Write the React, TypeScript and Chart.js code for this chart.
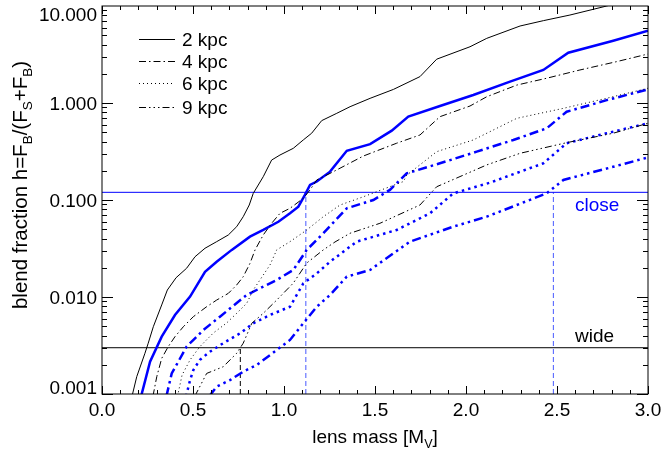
import React, { useEffect, useRef } from "react";
import { Chart, registerables } from "chart.js";
Chart.register(...registerables);

const FONT = '"Liberation Sans", Arial, Helvetica, sans-serif';
const BLUE = "rgb(0,0,255)";

// axis ticks
const xTickValues = [0, 0.5, 1.0, 1.5, 2.0, 2.5, 3.0];
const xTickLabels = ["0.0", "0.5", "1.0", "1.5", "2.0", "2.5", "3.0"];
const yTickValues = [0.001, 0.01, 0.1, 1, 10];
const yTickLabels = ["0.001", "0.010", "0.100", "1.000", "10.000"];

// legend
const legendLabels = ["2 kpc", "4 kpc", "6 kpc", "9 kpc"];

// thresholds
const closeLimit = 0.12;
const wideLimit = 0.003;
const closeCrossings = [1.12, 2.48];
const wideCrossings = [0.76];

// wide (black) series
const mass2kpcWide = [0.165, 0.191, 0.236, 0.254, 0.282, 0.328, 0.359, 0.407, 0.465, 0.511, 0.566, 0.630, 0.694, 0.740, 0.776, 0.809, 0.831, 0.886, 0.932, 0.978, 1.051, 1.106, 1.152, 1.207, 1.290, 1.363, 1.473, 1.601, 1.747, 1.839, 2.022, 2.114, 2.297, 2.425, 2.571, 2.773, 3.0];
const h2kpcWide = [0.00095, 0.00151, 0.00263, 0.00334, 0.00494, 0.00828, 0.0118, 0.0158, 0.0198, 0.0260, 0.0318, 0.0372, 0.0436, 0.0531, 0.0673, 0.0888, 0.117, 0.174, 0.258, 0.291, 0.341, 0.416, 0.488, 0.658, 0.783, 0.916, 1.117, 1.38, 1.87, 2.83, 3.80, 4.64, 6.22, 7.06, 8.07, 10.0, 13.5];

const mass4kpcWide = [0.280, 0.301, 0.328, 0.364, 0.401, 0.447, 0.502, 0.575, 0.630, 0.694, 0.740, 0.776, 0.813, 0.841, 0.886, 0.932, 0.978, 1.033, 1.106, 1.143, 1.180, 1.253, 1.436, 1.619, 1.747, 1.857, 2.022, 2.114, 2.279, 2.443, 2.626, 2.828, 3.0];
const h4kpcWide = [0.00095, 0.00151, 0.00233, 0.00308, 0.0039, 0.00494, 0.00627, 0.00794, 0.0093, 0.0109, 0.0133, 0.0162, 0.0222, 0.0306, 0.0436, 0.0575, 0.0729, 0.0821, 0.104, 0.127, 0.161, 0.188, 0.284, 0.385, 0.468, 0.723, 0.931, 1.16, 1.53, 1.80, 2.19, 2.67, 3.20];

const mass6kpcWide = [0.415, 0.44, 0.484, 0.538, 0.612, 0.685, 0.740, 0.795, 0.831, 0.868, 0.923, 0.960, 1.033, 1.125, 1.216, 1.308, 1.436, 1.656, 1.674, 1.839, 2.040, 2.279, 2.535, 2.773, 3.0];
const h6kpcWide = [0.00095, 0.00157, 0.00225, 0.00308, 0.00426, 0.0054, 0.00679, 0.0086, 0.0118, 0.0150, 0.0214, 0.0306, 0.0372, 0.0491, 0.0673, 0.0888, 0.108, 0.155, 0.18, 0.315, 0.416, 0.695, 0.881, 1.12, 1.42];

const mass9kpcWide = [0.51, 0.575, 0.666, 0.740, 0.776, 0.823, 0.886, 0.960, 1.051, 1.125, 1.216, 1.280, 1.363, 1.527, 1.747, 1.839, 2.114, 2.297, 2.553, 2.809, 3.0];
const h9kpcWide = [0.00095, 0.00163, 0.00191, 0.00263, 0.00334, 0.00536, 0.00679, 0.0093, 0.0139, 0.0224, 0.0306, 0.0369, 0.0454, 0.0575, 0.0888, 0.137, 0.230, 0.303, 0.390, 0.488, 0.618];

// close (blue) series
const mass2kpcClose = [0.215, 0.264, 0.328, 0.401, 0.484, 0.566, 0.630, 0.713, 0.813, 0.886, 0.969, 1.033, 1.079, 1.115, 1.143, 1.180, 1.253, 1.345, 1.473, 1.592, 1.683, 1.857, 2.040, 2.242, 2.425, 2.562, 2.809, 3.0];
const h2kpcClose = [0.00095, 0.00215, 0.0039, 0.00652, 0.0101, 0.0182, 0.0231, 0.0306, 0.0419, 0.0491, 0.0597, 0.0729, 0.0853, 0.113, 0.143, 0.155, 0.196, 0.322, 0.377, 0.519, 0.723, 0.931, 1.21, 1.66, 2.19, 3.30, 4.39, 5.56];

const mass4kpcClose = [0.354, 0.383, 0.419, 0.465, 0.511, 0.557, 0.648, 0.795, 0.960, 1.051, 1.125, 1.216, 1.345, 1.491, 1.582, 1.674, 1.857, 2.059, 2.260, 2.443, 2.553, 2.773, 3.0];
const h4kpcClose = [0.00095, 0.00163, 0.00215, 0.00308, 0.00375, 0.00457, 0.00627, 0.0105, 0.0150, 0.0190, 0.0306, 0.0454, 0.0821, 0.100, 0.127, 0.188, 0.239, 0.315, 0.416, 0.548, 0.813, 1.07, 1.38];

const mass6kpcClose = [0.462, 0.484, 0.502, 0.538, 0.593, 0.666, 0.758, 0.831, 0.923, 1.033, 1.106, 1.180, 1.253, 1.399, 1.619, 1.802, 1.930, 2.132, 2.425, 2.553, 2.773, 3.0];
const h6kpcClose = [0.00095, 0.00139, 0.00177, 0.00225, 0.00273, 0.00334, 0.00422, 0.00536, 0.00652, 0.00794, 0.0138, 0.0175, 0.0231, 0.0372, 0.0491, 0.0729, 0.117, 0.151, 0.239, 0.385, 0.488, 0.618];

const mass9kpcClose = [0.59, 0.630, 0.703, 0.776, 0.850, 0.960, 1.033, 1.106, 1.180, 1.253, 1.345, 1.473, 1.692, 1.930, 2.114, 2.443, 2.535, 2.809, 3.0];
const h9kpcClose = [0.00095, 0.00119, 0.00139, 0.0017, 0.00199, 0.00284, 0.00361, 0.00536, 0.00794, 0.0105, 0.0162, 0.0190, 0.0372, 0.0531, 0.0673, 0.117, 0.161, 0.220, 0.275];

const zip = (xs: number[], ys: number[]) => xs.map((x, i) => ({ x, y: ys[i] }));

const thinDash = [[], [7, 3, 1.5, 3], [1, 3], [7, 3, 1.5, 3, 1.5, 3, 1.5, 3]];
const thickDash = [[], [9, 4, 2.5, 4], [2.5, 4], [9, 4, 2.5, 4, 2.5, 4, 2.5, 4]];

function drawRich(ctx: CanvasRenderingContext2D, parts: { t: string; sub?: boolean }[], size: number, x: number, y: number) {
  const subSize = size * 0.66;
  let w = 0;
  for (const p of parts) {
    ctx.font = `${p.sub ? subSize : size}px ${FONT}`;
    w += ctx.measureText(p.t).width;
  }
  let cx = x - w / 2;
  for (const p of parts) {
    ctx.font = `${p.sub ? subSize : size}px ${FONT}`;
    ctx.fillText(p.t, cx, p.sub ? y + size * 0.24 : y);
    cx += ctx.measureText(p.t).width;
  }
}

const decorPlugin = {
  id: "decor",
  afterDatasetsDraw(chart: any) {
    const ctx: CanvasRenderingContext2D = chart.ctx;
    const { left, right, top, bottom } = chart.chartArea;
    const xs = chart.scales.x;
    const ys = chart.scales.y;
    ctx.save();
    // frame
    ctx.strokeStyle = "#000";
    ctx.lineWidth = 1;
    ctx.strokeRect(left, top, right - left, bottom - top);
    // x ticks
    ctx.beginPath();
    for (let i = 0; i <= 30; i++) {
      const v = i / 10;
      const px = Math.round(xs.getPixelForValue(v)) + 0.5;
      const len = i % 5 === 0 ? 8 : 4;
      ctx.moveTo(px, bottom);
      ctx.lineTo(px, bottom - len);
      ctx.moveTo(px, top);
      ctx.lineTo(px, top + len);
    }
    // y ticks
    for (let d = -3; d <= 0; d++) {
      for (let k = 1; k <= 9; k++) {
        const v = k * Math.pow(10, d);
        const py = Math.round(ys.getPixelForValue(v)) + 0.5;
        const len = k === 1 ? 11 : 5;
        ctx.moveTo(left, py);
        ctx.lineTo(left + len, py);
        ctx.moveTo(right, py);
        ctx.lineTo(right - len, py);
      }
    }
    ctx.stroke();

    // tick labels
    ctx.fillStyle = "#000";
    ctx.font = `19px ${FONT}`;
    ctx.textAlign = "center";
    ctx.textBaseline = "alphabetic";
    xTickValues.forEach((v, i) => {
      ctx.fillText(xTickLabels[i], xs.getPixelForValue(v), 416);
    });
    ctx.textAlign = "right";
    yTickValues.forEach((v, i) => {
      let py = ys.getPixelForValue(v);
      py = Math.max(top + 8, Math.min(bottom - 7, py));
      ctx.fillText(yTickLabels[i], left - 5, py + 6.8);
    });

    // axis titles
    ctx.textAlign = "left";
    drawRich(ctx, [{ t: "lens mass [M" }, { t: "V", sub: true }, { t: "]" }], 19, (left + right) / 2, 443);
    ctx.save();
    ctx.translate(27, 185);
    ctx.rotate(-Math.PI / 2);
    drawRich(
      ctx,
      [
        { t: "blend fraction h=F" },
        { t: "B", sub: true },
        { t: "/(F" },
        { t: "S", sub: true },
        { t: "+F" },
        { t: "B", sub: true },
        { t: ")" },
      ],
      20.5,
      0,
      0
    );
    ctx.restore();

    // legend
    const rows = [39, 61, 83, 107];
    legendLabels.forEach((lab, i) => {
      const y = rows[i] + 0.5;
      ctx.beginPath();
      ctx.setLineDash(thinDash[i]);
      ctx.strokeStyle = "#000";
      ctx.lineWidth = 1;
      ctx.moveTo(139, y);
      ctx.lineTo(175, y);
      ctx.stroke();
      ctx.setLineDash([]);
      ctx.font = `19px ${FONT}`;
      ctx.textAlign = "left";
      ctx.fillText(lab, 182, rows[i] + 6.5);
    });

    // annotations
    ctx.font = `19px ${FONT}`;
    ctx.fillStyle = BLUE;
    ctx.fillText("close", 575, 211);
    ctx.fillStyle = "#000";
    ctx.fillText("wide", 575, 342);
    ctx.restore();
  },
};

export default function App() {
  const ref = useRef<HTMLCanvasElement | null>(null);
  useEffect(() => {
    document.body.style.margin = "0";
    const canvas = ref.current!;
    const series = [
      { d: zip(mass2kpcWide, h2kpcWide), c: "#000", w: 1, i: 0 },
      { d: zip(mass4kpcWide, h4kpcWide), c: "#000", w: 1, i: 1 },
      { d: zip(mass6kpcWide, h6kpcWide), c: "#000", w: 1, i: 2 },
      { d: zip(mass9kpcWide, h9kpcWide), c: "#000", w: 1, i: 3 },
      { d: zip(mass2kpcClose, h2kpcClose), c: BLUE, w: 2.5, i: 0 },
      { d: zip(mass4kpcClose, h4kpcClose), c: BLUE, w: 2.5, i: 1 },
      { d: zip(mass6kpcClose, h6kpcClose), c: BLUE, w: 2.5, i: 2 },
      { d: zip(mass9kpcClose, h9kpcClose), c: BLUE, w: 2.5, i: 3 },
    ];
    const datasets: any[] = series.map((s) => ({
      data: s.d,
      borderColor: s.c,
      borderWidth: s.w,
      borderDash: s.w > 1 ? thickDash[s.i] : thinDash[s.i],
      pointRadius: 0,
      tension: 0,
      fill: false,
    }));
    datasets.push({
      data: [{ x: 0, y: closeLimit }, { x: 3, y: closeLimit }],
      borderColor: BLUE, borderWidth: 1, pointRadius: 0, fill: false,
    });
    datasets.push({
      data: [{ x: 0, y: wideLimit }, { x: 3, y: wideLimit }],
      borderColor: "#000", borderWidth: 1, pointRadius: 0, fill: false,
    });
    closeCrossings.forEach((m) =>
      datasets.push({
        data: [{ x: m, y: 0.001 }, { x: m, y: closeLimit }],
        borderColor: "rgba(40,60,255,0.85)", borderWidth: 1, borderDash: [5, 3], pointRadius: 0, fill: false,
      })
    );
    wideCrossings.forEach((m) =>
      datasets.push({
        data: [{ x: m, y: 0.001 }, { x: m, y: wideLimit }],
        borderColor: "#000", borderWidth: 1, borderDash: [5, 3], pointRadius: 0, fill: false,
      })
    );
    const chart = new Chart(canvas, {
      type: "line",
      data: { datasets },
      options: {
        responsive: false,
        animation: false,
        devicePixelRatio: 1,
        layout: { padding: { left: 102, right: 15, top: 6, bottom: 55 } },
        plugins: { legend: { display: false }, tooltip: { enabled: false } },
        scales: {
          x: { type: "linear", min: 0, max: 3, display: false },
          y: { type: "logarithmic", min: 0.001, max: 10, display: false },
        },
      },
      plugins: [decorPlugin],
    } as any);
    return () => chart.destroy();
  }, []);
  return <canvas ref={ref} width={663} height={449} style={{ display: "block" }} />;
}
